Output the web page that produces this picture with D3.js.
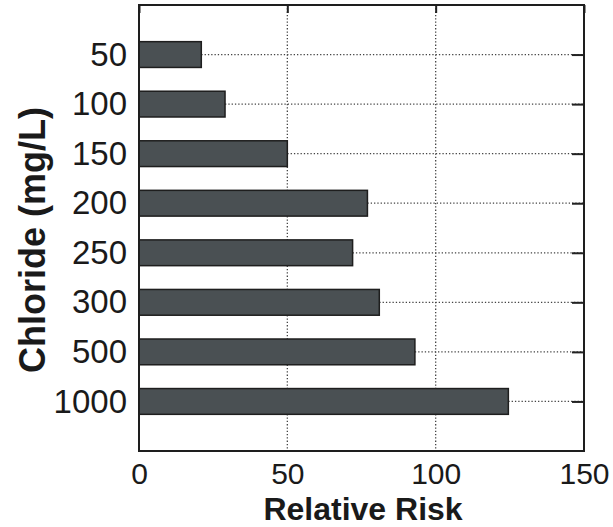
<!DOCTYPE html>
<html>
<head>
<meta charset="utf-8">
<script src="https://cdn.jsdelivr.net/npm/d3@7"></script>
<style>
  body { margin: 0; background: #fff; }
  text { font-family: "Liberation Sans", Arial, sans-serif; fill: #1a1a1a; }
</style>
</head>
<body>
<div id="chart"></div>
<script>
// data
const categories = ['50', '100', '150', '200', '250', '300', '500', '1000'];
const relativeRisk = [21, 29, 50, 77, 72, 81, 93, 124.5];
const xTicks = [0, 50, 100, 150];

const W = 613, H = 527;
const margin = { top: 5, right: 29, bottom: 76, left: 139 };
const width = W - margin.left - margin.right;
const height = H - margin.top - margin.bottom;

const svg = d3.select('#chart').append('svg')
  .attr('width', W)
  .attr('height', H);

const chart = svg.append('g')
  .attr('transform', `translate(${margin.left},${margin.top})`);

// scales
const xScale = d3.scaleLinear().domain([0, 150]).range([0, width]);
// categories sit at 1..8 on a 0..9 axis, top to bottom
const yScale = d3.scaleLinear().domain([0, categories.length + 1]).range([0, height]);
const yPos = (d, i) => yScale(i + 1);
const barH = (yScale(1) - yScale(0)) * 0.52;

// vertical dotted grid
chart.selectAll('.vgrid')
  .data(xTicks.filter(t => t > 0 && t < 150))
  .enter().append('line')
  .attr('class', 'vgrid')
  .attr('x1', d => xScale(d)).attr('x2', d => xScale(d))
  .attr('y1', 0).attr('y2', height)
  .attr('stroke', '#444')
  .attr('stroke-width', 1.3)
  .attr('stroke-dasharray', '1.3,2');

// horizontal dotted lines from bar end to right edge
chart.selectAll('.hgrid')
  .data(relativeRisk)
  .enter().append('line')
  .attr('class', 'hgrid')
  .attr('x1', d => xScale(d)).attr('x2', width)
  .attr('y1', yPos).attr('y2', yPos)
  .attr('stroke', '#444')
  .attr('stroke-width', 1.3)
  .attr('stroke-dasharray', '1.3,2');

// bars
chart.selectAll('.bar')
  .data(relativeRisk)
  .enter().append('rect')
  .attr('class', 'bar')
  .attr('x', xScale(0))
  .attr('y', (d, i) => yPos(d, i) - barH / 2)
  .attr('width', d => xScale(d) - xScale(0))
  .attr('height', barH)
  .attr('fill', '#4a5053')
  .attr('stroke', '#1e1e1e')
  .attr('stroke-width', 1.5);

// top ticks (inward)
const topAxis = d3.axisTop(xScale).tickValues(xTicks).tickSize(-8).tickFormat('');
chart.append('g').call(topAxis)
  .call(g => g.select('.domain').remove())
  .selectAll('line').attr('stroke', '#222').attr('stroke-width', 2);

// right ticks (inward)
const rightAxis = d3.axisRight(yScale)
  .tickValues(d3.range(1, categories.length + 1))
  .tickSize(-12).tickFormat('');
chart.append('g').attr('transform', `translate(${width},0)`).call(rightAxis)
  .call(g => g.select('.domain').remove())
  .selectAll('line').attr('stroke', '#222').attr('stroke-width', 2);

// bottom axis labels
const xAxis = d3.axisBottom(xScale).tickValues(xTicks).tickSize(0).tickPadding(12);
chart.append('g').attr('transform', `translate(0,${height})`).call(xAxis)
  .call(g => g.select('.domain').remove())
  .selectAll('text')
  .style('font-family', '"Liberation Sans", Arial, sans-serif')
  .style('font-size', '30px')
  .attr('fill', '#1a1a1a');

// left axis labels
const yAxis = d3.axisLeft(yScale)
  .tickValues(d3.range(1, categories.length + 1))
  .tickSize(0).tickPadding(12)
  .tickFormat(d => categories[d - 1]);
chart.append('g').call(yAxis)
  .call(g => g.select('.domain').remove())
  .selectAll('text')
  .style('font-family', '"Liberation Sans", Arial, sans-serif')
  .style('font-size', '33px')
  .attr('fill', '#1a1a1a');

// frame
chart.append('rect')
  .attr('width', width).attr('height', height)
  .attr('fill', 'none')
  .attr('stroke', '#1e1e1e')
  .attr('stroke-width', 2);

// axis titles
svg.append('text')
  .attr('x', 363)
  .attr('y', 520)
  .attr('text-anchor', 'middle')
  .style('font-size', '32px')
  .style('font-weight', 'bold')
  .text('Relative Risk');

svg.append('text')
  .attr('transform', 'translate(45,240) rotate(-90)')
  .attr('text-anchor', 'middle')
  .style('font-size', '36px')
  .style('font-weight', 'bold')
  .text('Chloride (mg/L)');
</script>
</body>
</html>
